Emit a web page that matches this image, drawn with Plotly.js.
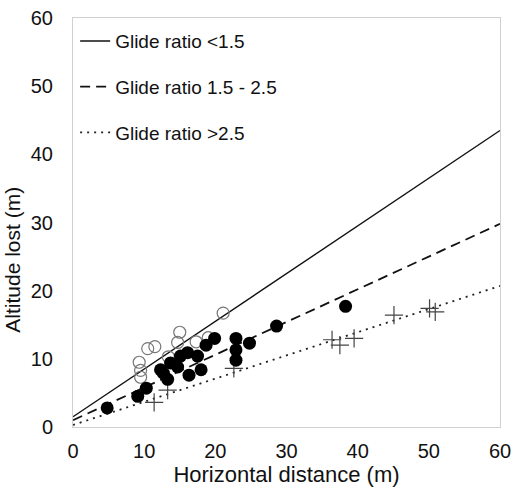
<!DOCTYPE html>
<html>
<head>
<meta charset="utf-8">
<script src="https://cdn.plot.ly/plotly-3.0.1.min.js"></script>
<style>html,body{margin:0;padding:0;background:#fff}#chart{width:514px;height:496px}</style>
</head>
<body>
<div id="chart"></div>
<script>
// Filled circles
const filledX = [4.8, 9.1, 10.3, 12.3, 12.7, 13.3, 13.7, 14.7, 15.1, 16.1, 16.3, 17.5, 18.0, 18.7, 19.9, 22.9, 22.9, 22.9, 24.8, 28.6, 38.3];
const filledY = [2.8, 4.5, 5.7, 8.4, 7.9, 7.0, 9.4, 8.8, 10.4, 10.9, 7.6, 10.4, 8.4, 12.0, 13.0, 13.0, 11.3, 9.8, 12.3, 14.8, 17.7];
// Open circles
const openX = [9.3, 9.5, 9.5, 10.5, 11.5, 13.4, 15.0, 14.7, 17.3, 19.0, 21.1];
const openY = [9.5, 8.3, 7.3, 11.5, 11.8, 10.3, 13.9, 12.4, 12.5, 13.1, 16.7];
// Crosses
const crossX = [11.4, 13.3, 22.6, 36.4, 37.5, 39.5, 45.1, 50.1, 50.9];
const crossY = [3.6, 5.4, 8.6, 12.8, 12.0, 13.0, 16.4, 17.4, 16.9];
// Fitted lines
const lineX = [0, 60];
const lowY = [1.5, 43.5];
const midY = [1.0, 29.8];
const highY = [0.3, 20.7];
const lineNames = ["Glide ratio <1.5", "Glide ratio 1.5 - 2.5", "Glide ratio >2.5"];
const xTicks = [0, 10, 20, 30, 40, 50, 60];
const yTicks = [0, 10, 20, 30, 40, 50, 60];
const xTitle = "Horizontal distance (m)";
const yTitle = "Altitude lost (m)";

const font = "Liberation Sans, Arial, sans-serif";
const traces = [
  {x: lineX, y: lowY, mode: "lines", name: lineNames[0], legendgroup: "a",
   line: {color: "#111", width: 1.4, dash: "solid"}},
  {x: lineX, y: midY, mode: "lines", name: lineNames[1], legendgroup: "b",
   line: {color: "#111", width: 1.8, dash: "10px,6px"}},
  {x: lineX, y: highY, mode: "lines", name: lineNames[2], legendgroup: "c",
   line: {color: "#222", width: 1.8, dash: "2px,5px"}},
  {x: crossX, y: crossY, mode: "markers", showlegend: false,
   marker: {symbol: "cross-thin-open", size: 13, color: "#444", line: {color: "#444", width: 1.2}}},
  {x: openX, y: openY, mode: "markers", showlegend: false,
   marker: {symbol: "circle-open", size: 12, color: "#777", line: {color: "#777", width: 1.2}}},
  {x: filledX, y: filledY, mode: "markers", showlegend: false,
   marker: {symbol: "circle", size: 13, color: "#000"}}
];

const layout = {
  width: 514, height: 496,
  margin: {l: 73, r: 14, t: 18, b: 69},
  paper_bgcolor: "#fff", plot_bgcolor: "#fff",
  font: {family: font, size: 20, color: "#111"},
  showlegend: true,
  legend: {x: 0.005, y: 0.99, xanchor: "left", yanchor: "top",
    bgcolor: "rgba(0,0,0,0)", font: {family: font, size: 19, color: "#111"},
    tracegroupgap: 18, itemwidth: 30},
  xaxis: {range: [0, 60], tickvals: xTicks, ticktext: xTicks.map(String),
    showgrid: false, zeroline: false, showline: true, linecolor: "#d0d0d0", linewidth: 1,
    mirror: true, ticks: "", ticklabelstandoff: 6,
    tickfont: {family: font, size: 20, color: "#111"},
    title: {text: xTitle, standoff: 4, font: {family: font, size: 22, color: "#111"}}},
  yaxis: {range: [0, 60], tickvals: yTicks, ticktext: yTicks.map(String),
    showgrid: false, zeroline: false, showline: true, linecolor: "#d0d0d0", linewidth: 1,
    mirror: true, ticks: "outside", ticklen: 15, tickcolor: "rgba(0,0,0,0)",
    tickfont: {family: font, size: 20, color: "#111"}},
  annotations: [{text: yTitle, xref: "paper", yref: "paper", x: -0.142, y: 0.41,
    xanchor: "center", yanchor: "middle", textangle: -90, showarrow: false,
    font: {family: font, size: 21, color: "#111"}}]
};
Plotly.newPlot("chart", traces, layout, {displayModeBar: false, staticPlot: true});
</script>
</body>
</html>
